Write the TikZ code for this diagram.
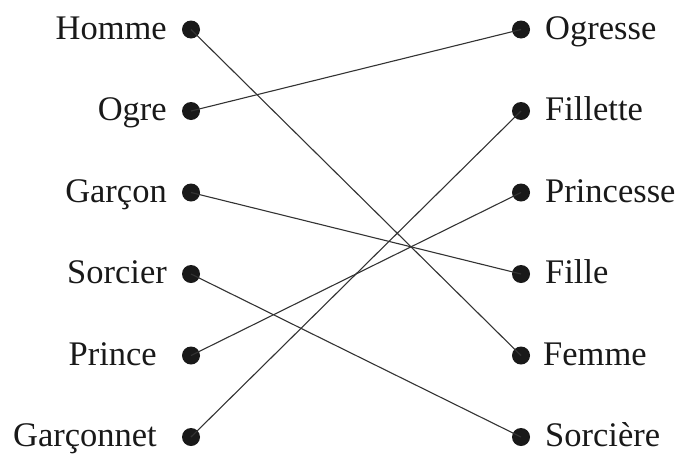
\documentclass[tikz,border=0pt]{standalone}
\usepackage{fontspec}
\setmainfont{Liberation Serif}
\begin{document}
\begin{tikzpicture}[x=1pt,y=-1pt,
  dotnode/.style={circle,fill=black!90,inner sep=0pt,minimum size=18pt},
  lbl/.style={inner sep=0pt,text=black!90,font=\fontsize{34.5}{38}\selectfont},
  link/.style={draw=black!80,line width=1.1pt}]
\useasboundingbox (0,0) rectangle (680,453);
% left dots
\foreach \n/\y in {homme/29.5,ogre/111,garcon/192.5,sorcier/274,prince/355.5,garconnet/437}{
  \node[dotnode] (l\n) at (191,\y) {};
}
\foreach \n/\y in {ogresse/29.5,fillette/111,princesse/192.5,fille/274,femme/355.5,sorciere/437}{
  \node[dotnode] (r\n) at (521,\y) {};
}
% left labels
\node[lbl,anchor=base east] (tHomme) at (167,39) {Homme};
\node[lbl,anchor=base east] (tOgre) at (167,120.5) {Ogre};
\node[lbl,anchor=base east] (tGarcon) at (167,202) {Garçon};
\node[lbl,anchor=base east] (tSorcier) at (167,283.5) {Sorcier};
\node[lbl,anchor=base east] (tPrince) at (157,365) {Prince};
\node[lbl,anchor=base east] (tGarconnet) at (157,446.5) {Garçonnet};
% right labels
\node[lbl,anchor=base west] (tOgresse) at (545,39) {Ogresse};
\node[lbl,anchor=base west] (tFillette) at (545,120.5) {Fillette};
\node[lbl,anchor=base west] (tPrincesse) at (545,202) {Princesse};
\node[lbl,anchor=base west] (tFille) at (545,283.5) {Fille};
\node[lbl,anchor=base west] (tFemme) at (543,365) {Femme};
\node[lbl,anchor=base west] (tSorciere) at (545,446.5) {Sorcière};
% links
\draw[link] (lhomme.center) -- (rfemme.center);
\draw[link] (logre.center) -- (rogresse.center);
\draw[link] (lgarcon.center) -- (rfille.center);
\draw[link] (lsorcier.center) -- (rsorciere.center);
\draw[link] (lprince.center) -- (rprincesse.center);
\draw[link] (lgarconnet.center) -- (rfillette.center);
\end{tikzpicture}
\end{document}
